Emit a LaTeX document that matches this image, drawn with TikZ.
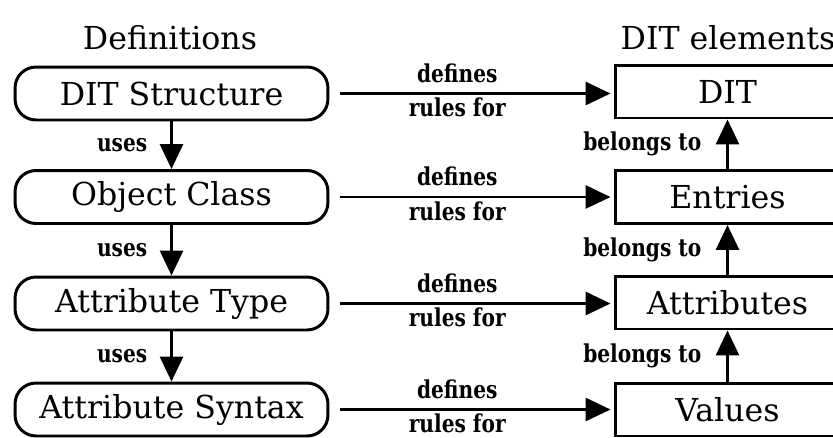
\documentclass[tikz,border=0pt]{standalone}
\usepackage{fontspec}
\setmainfont{DejaVu Serif}
\newfontfamily\lblfont[FakeStretch=0.82]{DejaVu Serif Bold}
\usetikzlibrary{arrows.meta}

\begin{document}
\begin{tikzpicture}[x=0.02cm,y=-0.02cm,>={Triangle[length=0.5cm,width=0.46cm]},
  line width=1.7pt,
  def node/.style={draw,rounded corners=0.42cm,minimum width=6.26cm,minimum height=1.06cm,
    font=\fontsize{18}{22}\selectfont},
  elem node/.style={draw,minimum width=4.5cm,minimum height=1.06cm,
    font=\fontsize{18}{22}\selectfont},
  title/.style={font=\fontsize{18}{22}\selectfont},
  lbl/.style={font=\fontsize{14}{17}\lblfont,inner sep=1pt}]

  \useasboundingbox (0,0) rectangle (833,437);
  \clip (0,0) rectangle (833,437);

  \node[title] (deftitle) at (170,38) {Definitions};
  \node[title] (elemtitle) at (728,38) {DIT elements};

  \node[def node] (ds) at (171.5,93.5) {DIT Structure};
  \node[def node] (oc) at (171.5,197) {Object Class};
  \node[def node] (atype) at (171.5,303.5) {Attribute Type};
  \node[def node] (asyn) at (171.5,409.5) {Attribute Syntax};

  \node[elem node] (dit) at (727.5,91.5) {DIT};
  \node[elem node] (ent) at (727.5,197) {Entries};
  \node[elem node] (attr) at (727.5,302.5) {Attributes};
  \node[elem node] (val) at (727.5,409.5) {Values};

  \path[->,shorten <=0.22cm,shorten >=0.06cm]
    (ds.east) edge node[lbl,above=0.15cm,pos=0.45] {defines} node[lbl,below=0.03cm,pos=0.45] {rules for} (dit.west |- ds.east)
    (oc.east) edge node[lbl,above=0.15cm,pos=0.45] {defines} node[lbl,below=0.03cm,pos=0.45] {rules for} (ent.west |- oc.east)
    (atype.east) edge node[lbl,above=0.15cm,pos=0.45] {defines} node[lbl,below=0.03cm,pos=0.45] {rules for} (attr.west |- atype.east)
    (asyn.east) edge node[lbl,above=0.15cm,pos=0.45] {defines} node[lbl,below=0.03cm,pos=0.45] {rules for} (val.west |- asyn.east);

  \path[->]
    (ds) edge node[lbl,left,xshift=-0.42cm] {uses} (oc)
    (oc) edge node[lbl,left,xshift=-0.42cm] {uses} (atype)
    (atype) edge node[lbl,left,xshift=-0.42cm] {uses} (asyn);

  \path[->]
    (ent) edge node[lbl,left,xshift=-0.46cm] {belongs to} (dit)
    (attr) edge node[lbl,left,xshift=-0.46cm] {belongs to} (ent)
    (val) edge node[lbl,left,xshift=-0.46cm] {belongs to} (attr);
\end{tikzpicture}
\end{document}
